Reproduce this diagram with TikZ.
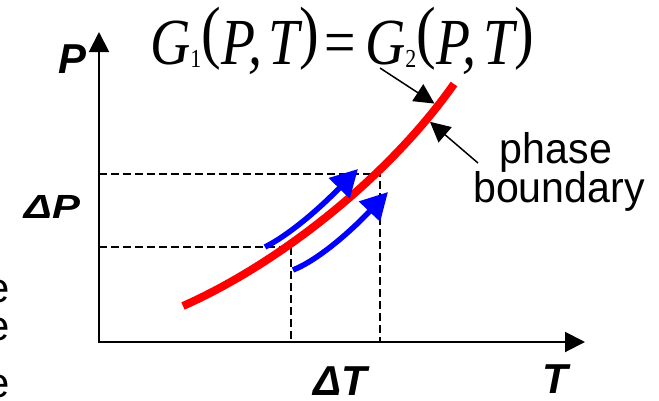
\documentclass[tikz,border=0pt]{standalone}
\usepackage{fontspec}
\usepackage{graphicx}
\usetikzlibrary{arrows.meta}
\newfontfamily\arialfont{Liberation Sans}
\newfontfamily\timesfont{Liberation Serif}
\newcommand{\eqsub}[1]{\raisebox{-0.05em}{\fontsize{26}{26}\selectfont\upshape #1}}
\newcommand{\eqlp}{\raisebox{0.13em}{\fontsize{70}{70}\selectfont\upshape(}}
\newcommand{\eqrp}{\raisebox{0.13em}{\fontsize{70}{70}\selectfont\upshape)}}
\newcommand{\eqtext}{\timesfont\fontsize{66}{66}\selectfont\itshape
  G\eqsub{1}\eqlp P,\kern0.12em T\eqrp\kern0.1em{\upshape=}\kern0.16em G\eqsub{2}\eqlp P,\kern0.12em T\eqrp}
\begin{document}
\begin{tikzpicture}[x=1bp,y=-1bp,
  axis/.style={line width=2bp,{Triangle[length=20bp,width=20bp]}-{Triangle[length=20bp,width=20bp]}},
  guide/.style={line width=1.5bp,dash pattern=on 8bp off 4bp},
  boundaryline/.style={line width=8bp,red},
  shiftarrow/.style={line width=5.5bp,blue,-{Triangle[length=27bp,width=28bp]}},
  pointer/.style={line width=1.5bp,-{Triangle[length=20bp,width=20bp]}},
  axlabel/.style={font=\arialfont\bfseries\itshape\fontsize{42}{42}\selectfont,inner sep=0pt,anchor=base,text depth=0pt},
  sidetext/.style={font=\arialfont\fontsize{43}{43}\selectfont,inner sep=0pt,anchor=base,text depth=0pt},
  cuttext/.style={font=\arialfont\fontsize{42}{42}\selectfont,inner sep=0pt,anchor=base east},
]
\useasboundingbox (0,0) rectangle (659,400);
\clip (0,0) rectangle (659,400);

% axes
\coordinate (O) at (99,342);
\coordinate (Ptop) at (99,32);
\coordinate (Tend) at (585,342);
\draw[axis] (Ptop) -- (O) -- (Tend);

% dashed guides
\coordinate (c1) at (291,247);
\coordinate (c2) at (380,174);
\draw[guide] (c1 -| O) -- (c1) -- (c1 |- O);
\draw[guide] (c2 -| O) -- (c2) -- (c2 |- O);

% phase boundary
\coordinate (r0) at (183,306);
\coordinate (r1) at (454,84);
\draw[boundaryline] (r0) .. controls (282,262) and (390,175) .. coordinate[pos=0.92] (hit1) coordinate[pos=0.87] (hit2) (r1);

% blue shift arrows
\coordinate (b1s) at (265,247);
\coordinate (b1e) at (358,169);
\coordinate (b2s) at (293,270);
\coordinate (b2e) at (388,192);
\draw[shiftarrow] (b1s) .. controls (287,236) and (316,212) .. (b1e);
\draw[shiftarrow] (b2s) .. controls (318,260) and (350,232) .. (b2e);

% labels
\node[axlabel] (Plab) at (72,73) {P};
\node[axlabel] (dPlab) at (52,218) {\scalebox{1}[0.8]{ΔP}};
\node[axlabel] (dTlab) at (340,395) {ΔT};
\node[axlabel] (Tlab) at (555,393) {T};

% equation
\node[inner sep=0pt,anchor=base west] (eq) at (150,64) {\resizebox{384bp}{\height}{\eqtext}};

% phase boundary text
\node[sidetext] (phase) at (556,163) {\scalebox{0.96}[1]{phase}};
\node[sidetext] (bnd) at (559,202) {\scalebox{0.96}[1]{boundary}};

% pointers
\coordinate (t1) at (380,68);
\coordinate (t2) at (478,163);
\draw[pointer,shorten >=4bp] (t1) -- (hit1);
\draw[pointer,shorten >=4bp] (t2) -- (hit2);

% cut-off text at the left edge
\node[cuttext] (e1) at (10,302) {e};
\node[cuttext] (e2) at (10,340) {e};
\node[cuttext] (e3) at (10,397) {e};
\end{tikzpicture}
\end{document}
